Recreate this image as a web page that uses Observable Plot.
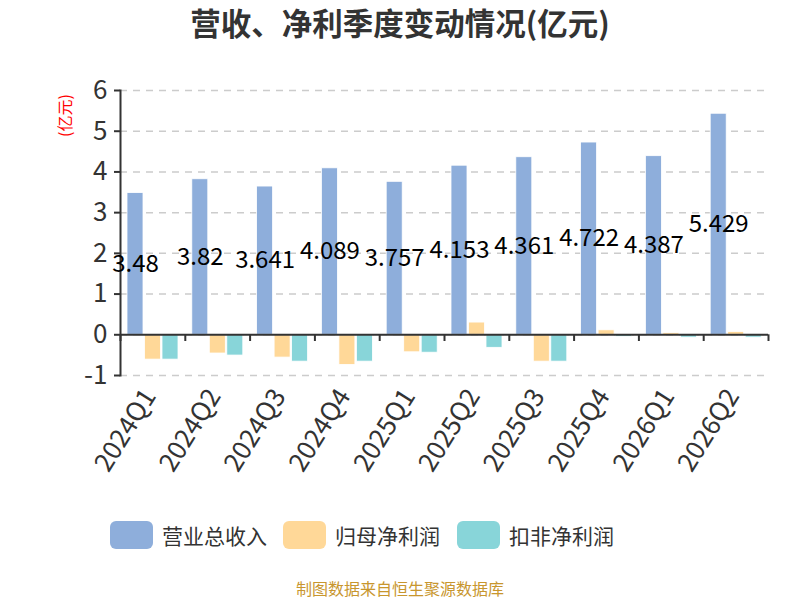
<!DOCTYPE html>
<html>
<head>
<meta charset="utf-8">
<script src="https://cdn.jsdelivr.net/npm/d3@7"></script>
<script src="https://cdn.jsdelivr.net/npm/@observablehq/plot@0.6"></script>
<style>
  body { margin: 0; background: #fff; font-family: "Noto Sans CJK SC", "Noto Sans", sans-serif; }
  #wrap { position: relative; width: 800px; height: 600px; overflow: hidden; }
  #title { position: absolute; left: 0; top: 0; width: 800px; text-align: center; font-size: 30.5px; font-weight: bold; color: #333; line-height: 44px; }
  #chart { position: absolute; left: 0; top: 50px; }
  #legend { position: absolute; left: 0; top: 518px; width: 800px; height: 34px; }
  .li { position: absolute; top: 0; display: flex; align-items: center; height: 34px; font-size: 21px; color: #333; white-space: nowrap; }
  .sw { width: 43px; height: 28px; border-radius: 6px; margin-right: 9px; }
  #caption { position: absolute; left: 0; top: 576px; width: 800px; text-align: center; font-size: 16px; color: #c8962e; line-height: 24px; }
</style>
</head>
<body>
<div id="wrap">
  <div id="title">营收、净利季度变动情况(亿元)</div>
  <div id="chart"></div>
  <div id="legend"></div>
  <div id="caption">制图数据来自恒生聚源数据库</div>
</div>
<script>
const quarters = ["2024Q1","2024Q2","2024Q3","2024Q4","2025Q1","2025Q2","2025Q3","2025Q4","2026Q1","2026Q2"];
const revenue = [3.48, 3.82, 3.641, 4.089, 3.757, 4.153, 4.361, 4.722, 4.387, 5.429];
const netProfit = [-0.61, -0.46, -0.56, -0.74, -0.43, 0.30, -0.66, 0.11, 0.04, 0.07];
const deductedProfit = [-0.61, -0.51, -0.66, -0.66, -0.44, -0.32, -0.66, -0.05, -0.07, -0.07];
const seriesNames = ["营业总收入", "归母净利润", "扣非净利润"];
const colors = ["#8eaedb", "#ffd898", "#88d5d9"];
const yTicks = [-1, 0, 1, 2, 3, 4, 5, 6];

const revData = quarters.map((q, i) => ({q, v: revenue[i]}));
const npData = quarters.map((q, i) => ({q, v: netProfit[i]}));
const dpData = quarters.map((q, i) => ({q, v: deductedProfit[i]}));

const W = 800, H = 450, mL = 120, mR = 32, mT = 40, mB = 125;
const bw = (W - mL - mR) / quarters.length;
const half = bw / 2;

const chart = Plot.plot({
  width: W, height: H,
  marginLeft: mL, marginRight: mR, marginTop: mT, marginBottom: mB,
  style: {fontFamily: "'Noto Sans CJK SC', 'Noto Sans', sans-serif", color: "#333", background: "#fff"},
  x: {domain: quarters, padding: 0, round: false, label: null, axis: null},
  y: {domain: [-1, 6], label: null, axis: null},
  marks: [
    Plot.gridY(yTicks, {stroke: "#cccccc", strokeOpacity: 1, strokeDasharray: "7,6", strokeWidth: 1.5}),
    Plot.barY(revData, {x: "q", y: "v", fill: colors[0], stroke: "#fff", strokeWidth: 0.8, insetLeft: 7, insetRight: bw - 23}),
    Plot.barY(npData, {x: "q", y: "v", fill: colors[1], stroke: "#fff", strokeWidth: 0.8, insetLeft: 24.5, insetRight: bw - 40.5}),
    Plot.barY(dpData, {x: "q", y: "v", fill: colors[2], stroke: "#fff", strokeWidth: 0.8, insetLeft: 42, insetRight: bw - 58}),
    Plot.ruleY([0], {stroke: "#333", strokeWidth: 2}),
    Plot.ruleX(quarters, {x: d => d, y1: 0, y2: -1, insetBottom: 34, dx: -half, stroke: "#333", strokeWidth: 2}),
    Plot.ruleX([quarters[quarters.length - 1]], {x: d => d, y1: 0, y2: -1, insetBottom: 34, dx: half, stroke: "#333", strokeWidth: 2}),
    Plot.frame({anchor: "left", stroke: "#333", strokeWidth: 2}),
    Plot.tickY(yTicks, {y: d => d, stroke: "#333", strokeWidth: 2}),
    Plot.text(yTicks, {y: d => d, frameAnchor: "left", dx: -13, textAnchor: "end", text: d => String(d), fontSize: 26, fill: "#333"}),
    Plot.text(quarters, {x: d => d, y: -1, dy: 16, dx: -3, rotate: -58, textAnchor: "end", lineAnchor: "middle", text: d => d, fontSize: 26, fill: "#333"}),
    Plot.text(revData, {x: "q", y: d => d.v / 2, text: d => String(d.v), dx: -(half - 15), fontSize: 24, fill: "#000"}),
    Plot.text(["(亿元)"], {frameAnchor: "top-left", dx: -61, dy: 25, rotate: -90, textAnchor: "middle", fill: "red", fontSize: 16})
  ]
});
document.getElementById("chart").appendChild(chart);

// turn y tick marks into short strokes left of the axis
chart.querySelectorAll('g[aria-label="tick"] line').forEach(l => {
  l.setAttribute("x1", mL - 6); l.setAttribute("x2", mL);
});

const legend = document.getElementById("legend");
const lefts = [110, 283, 457];
seriesNames.forEach((n, i) => {
  const el = document.createElement("div");
  el.className = "li";
  el.style.left = lefts[i] + "px";
  el.innerHTML = `<div class="sw" style="background:${colors[i]}"></div><span>${n}</span>`;
  legend.appendChild(el);
});
</script>
</body>
</html>
